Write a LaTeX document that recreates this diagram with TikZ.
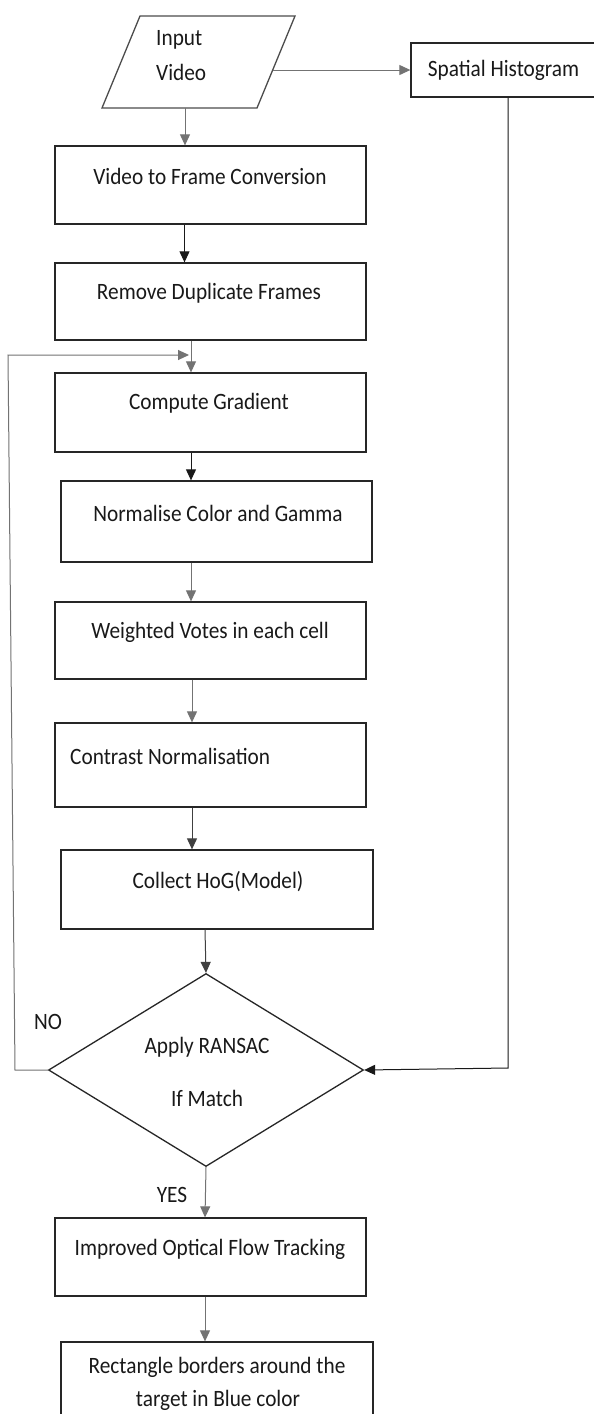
\documentclass[tikz,border=0pt]{standalone}
\usepackage{fontspec}
\setmainfont{Carlito}
\usetikzlibrary{arrows.meta,shapes.geometric}
\newcommand{\tx}[1]{\scalebox{1}[1.1]{#1}}
\begin{document}
\begin{tikzpicture}[x=1pt,y=-1pt,
  box/.style={draw=black!85, line width=1.3pt, rectangle, minimum width=311pt, inner sep=0pt},
  lbl/.style={font=\fontsize{21.3}{25}\selectfont, text=black!90, inner sep=0pt},
  arr/.style={line width=1pt, -{Triangle[length=11pt,width=10pt]}},
  gline/.style={draw=black!55},
  kline/.style={draw=black!90}]
\useasboundingbox (0,0) rectangle (594,1414);
\fill[white] (0,0) rectangle (594,1414);

% input parallelogram
\node[rectangle, minimum width=155pt, minimum height=92pt, inner sep=0pt] (inp) at (198.5,62) {};
\draw[draw=black!70, line width=1.3pt] (140,16) -- (295,16) -- (257,108) -- (102,108) -- cycle;
\node[lbl, anchor=west] (inpt1) at (156,40) {\tx{Input}};
\node[lbl, anchor=west] (inpt2) at (156,72) {\tx{Video}};

% spatial histogram
\node[box, minimum width=189pt, minimum height=54pt] (sp) at (505.5,70) {};
\node[lbl] (spt) at (503.5,70) {\tx{Spatial Histogram}};

% process boxes
\node[box, minimum height=78pt] (vfc) at (210.5,185) {};
\node[lbl] (vfct) at (210,176) {\tx{Video to Frame Conversion}};

\node[box, minimum height=77pt] (rdf) at (210.5,301.5) {};
\node[lbl] (rdft) at (209,293) {\tx{Remove Duplicate Frames}};

\node[box, minimum height=79pt] (cg) at (210.5,412.5) {};
\node[lbl] (cgt) at (209,403) {\tx{Compute Gradient}};

\node[box, minimum height=81pt] (ncg) at (216.5,521.5) {};
\node[lbl] (ncgt) at (218,513) {\tx{Normalise Color and Gamma}};

\node[box, minimum height=77pt] (wv) at (210.5,640.5) {};
\node[lbl] (wvt) at (210,632) {\tx{Weighted Votes in each cell}};

\node[box, minimum height=84pt] (cn) at (210.5,765) {};
\node[lbl, anchor=west] (cnt) at (70,756) {\tx{Contrast Normalisation}};

\node[box, minimum width=312pt, minimum height=79pt] (hog) at (217,889.5) {};
\node[lbl] (hogt) at (218,882) {\tx{Collect HoG(Model)}};

% decision
\node[diamond, draw=black!85, line width=1.3pt, minimum width=315pt, minimum height=193pt, inner sep=0pt] (dia) at (206,1070) {};
\node[lbl] (diat1) at (207,1047) {\tx{Apply RANSAC}};
\node[lbl] (diat2) at (207,1098) {\tx{If Match}};
\node[lbl] (no) at (48,1022) {\tx{NO}};
\node[lbl] (yes) at (172,1195) {\tx{YES}};

\node[box, minimum height=78pt] (iof) at (210.5,1257) {};
\node[lbl] (ioft) at (210,1249) {\tx{Improved Optical Flow Tracking}};

\node[box, minimum width=312pt, minimum height=100pt] (rb) at (217,1392) {};
\node[lbl] (rbt1) at (217,1367) {\tx{Rectangle borders around the}};
\node[lbl] (rbt2) at (218,1400) {\tx{target in Blue color}};

% connectors
\coordinate (inpR) at (273,70);
\draw[arr, gline] (inpR) -- (sp.west);
\draw[arr, gline] ([xshift=-13.5pt]inp.south) -- ([xshift=-25.5pt]vfc.north);
\draw[arr, kline] ([xshift=-26pt]vfc.south) -- ([xshift=-26pt]rdf.north);
\draw[arr, gline] ([xshift=-19.5pt]rdf.south) -- ([xshift=-19.5pt]cg.north);
\draw[arr, kline] ([xshift=-19.5pt]cg.south) -- ([xshift=-25.5pt]ncg.north);
\draw[arr, gline] ([xshift=-25.5pt]ncg.south) -- ([xshift=-19.5pt]wv.north);
\draw[arr, gline] ([xshift=-18.5pt]wv.south) -- ([xshift=-18.5pt]cn.north);
\draw[arr, draw=black!75] ([xshift=-18.5pt]cn.south) -- ([xshift=-25pt]hog.north);
\draw[arr, draw=black!75] ([xshift=-12pt]hog.south) -- (dia.north);
\draw[arr, gline] (dia.south) -- ([xshift=-5.5pt]iof.north);
\draw[arr, gline] ([xshift=-5.5pt]iof.south) -- ([xshift=-12pt]rb.north);

\coordinate (lp1) at (15,1070);
\coordinate (lp2) at (8,355);
\coordinate (lp3) at (189,355);
\draw[arr, gline] (dia.west) -- (lp1) -- (lp2) -- (lp3);

\coordinate (sp1) at (508,1068);
\draw[arr, kline] ([xshift=2.5pt]sp.south) -- (sp1) -- (dia.east);
\end{tikzpicture}
\end{document}
